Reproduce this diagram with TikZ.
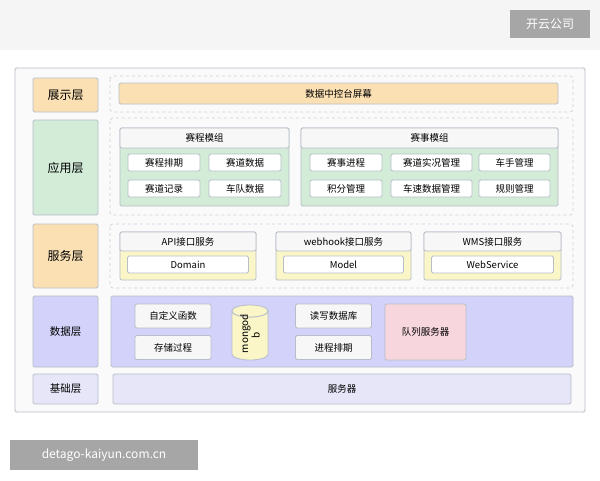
\documentclass[tikz,border=0pt]{standalone}
\usepackage{fontspec}
\setmainfont{Noto Sans CJK SC}
\definecolor{frameline}{HTML}{B8BEC8}
\definecolor{orangefill}{HTML}{FBE0B4}
\definecolor{greenfill}{HTML}{D2ECD8}
\definecolor{yellowfill}{HTML}{FAF6C8}
\definecolor{lilacfill}{HTML}{D2D2FA}
\definecolor{palefill}{HTML}{E6E6F8}
\definecolor{pinkfill}{HTML}{F8D6DE}
\tikzset{
	box/.style={draw=frameline, rounded corners=1.5pt, line width=0.8pt},
	layer/.style={box, font=\fontsize{12}{14}\selectfont},
	item/.style={box, fill=white, font=\fontsize{9.5}{11}\selectfont},
	lane/.style={draw=frameline!70, dashed, rounded corners=3pt, line width=0.7pt},
	stamp/.style={fill=black!35, text=white, font=\fontsize{12}{14}\selectfont}
}
\begin{document}
\begin{tikzpicture}[x=1pt, y=-1pt]
\useasboundingbox (0,0) rectangle (600,480);
\fill[white] (0,0) rectangle (600,480);
\fill[black!4] (0,0) rectangle (600,50);
\node[stamp, minimum width=80, minimum height=28] (brand) at (550,24) {开云公司};
\node[stamp, minimum width=188, minimum height=30] (site) at (104,455) {detago-kaiyun.com.cn};
% outer frame
\draw[box, fill=black!2] (15,68) rectangle (585,412);
% layer labels
\node[layer, fill=orangefill, minimum width=65, minimum height=34] (show) at (65.5,95) {展示层};
\node[layer, fill=greenfill, minimum width=65, minimum height=95] (app) at (65.5,167.5) {应用层};
\node[layer, fill=orangefill, minimum width=65, minimum height=64] (svc) at (65.5,256) {服务层};
\node[layer, fill=lilacfill, minimum width=65, minimum height=71, font=\fontsize{10.5}{12}\selectfont] (data) at (65.5,331.5) {数据层};
\node[layer, fill=palefill, minimum width=65, minimum height=30, font=\fontsize{10.5}{12}\selectfont] (base) at (65.5,389) {基础层};
% lanes
\draw[lane] (110,76) rectangle (573,112);
\draw[lane] (110,118) rectangle (573,215);
\draw[lane] (110,224) rectangle (573,288);
% presentation
\node[box, fill=orangefill, minimum width=439, minimum height=21, font=\fontsize{9.5}{11}\selectfont] (screen) at (338.5,93.5) {数据中控台屏幕};
% application modules
\draw[box, fill=greenfill] (120,128) rectangle (289,206);
\draw[box, fill=black!3] (120,128) rectangle (289,148);
\node[font=\fontsize{9.5}{11}\selectfont] (sched) at (204.5,138) {赛程模组};
\draw[box, fill=greenfill] (301,128) rectangle (558,206);
\draw[box, fill=black!3] (301,128) rectangle (558,148);
\node[font=\fontsize{9.5}{11}\selectfont] (event) at (429.5,138) {赛事模组};
\foreach \cx/\w/\cy/\t/\n in {164/72/162.5/赛程排期/a1, 245/72/162.5/赛道数据/a2,
	164/72/188.5/赛道记录/a3, 245/72/188.5/车队数据/a4,
	346/72/162.5/赛事进程/b1, 431.5/81/162.5/赛道实况管理/b2, 514.5/71/162.5/车手管理/b3,
	346/72/188.5/积分管理/b4, 431.5/81/188.5/车速数据管理/b5, 514.5/71/188.5/规则管理/b6}
	\node[item, minimum width=\w, minimum height=17] (\n) at (\cx,\cy) {\t};
% service modules
\foreach \l/\r/\t/\s/\n in {120/256/API接口服务/Domain/api, 276/411/webhook接口服务/Model/hook, 424/561/WMS接口服务/WebService/wms} {
	\draw[box, fill=yellowfill] (\l,232) rectangle (\r,280);
	\draw[box, fill=black!3] (\l,232) rectangle (\r,251);
	\node[font=\fontsize{9.5}{11}\selectfont] (\n) at ({(\l+\r)/2},241.5) {\t};
	\node[item, minimum width=\r-\l-15, minimum height=17] (\n-in) at ({(\l+\r)/2},264.5) {\s};
}
% data layer
\draw[box, fill=lilacfill] (111,296) rectangle (573,367);
\foreach \cx/\cy/\t/\n in {173/316/自定义函数/udf, 173/347.5/存储过程/proc, 333.5/316/读写数据库/rw, 333.5/347.5/进程排期/plan}
	\node[item, fill=black!3, minimum width=76, minimum height=24] (\n) at (\cx,\cy) {\t};
% database drum
\draw[draw=frameline, line width=0.8pt, fill=yellowfill]
	(232,311) arc[start angle=180, end angle=360, x radius=18, y radius=-6] -- (268,354)
	arc[start angle=0, end angle=-180, x radius=18, y radius=-6] -- cycle;
\draw[draw=frameline, line width=0.8pt, fill=yellowfill] (250,311) ellipse[x radius=18, y radius=6];
\node[rotate=90, font=\fontsize{10}{10}\selectfont, align=center, text width=36] (mongo) at (250,335) {mongod\\b};
\node[box, fill=pinkfill, minimum width=81, minimum height=56, font=\fontsize{9.5}{11}\selectfont] (queue) at (425.5,332) {队列服务器};
% base layer
\node[box, fill=palefill, minimum width=458, minimum height=30, font=\fontsize{9.5}{11}\selectfont] (server) at (342,389) {服务器};
\end{tikzpicture}
\end{document}
